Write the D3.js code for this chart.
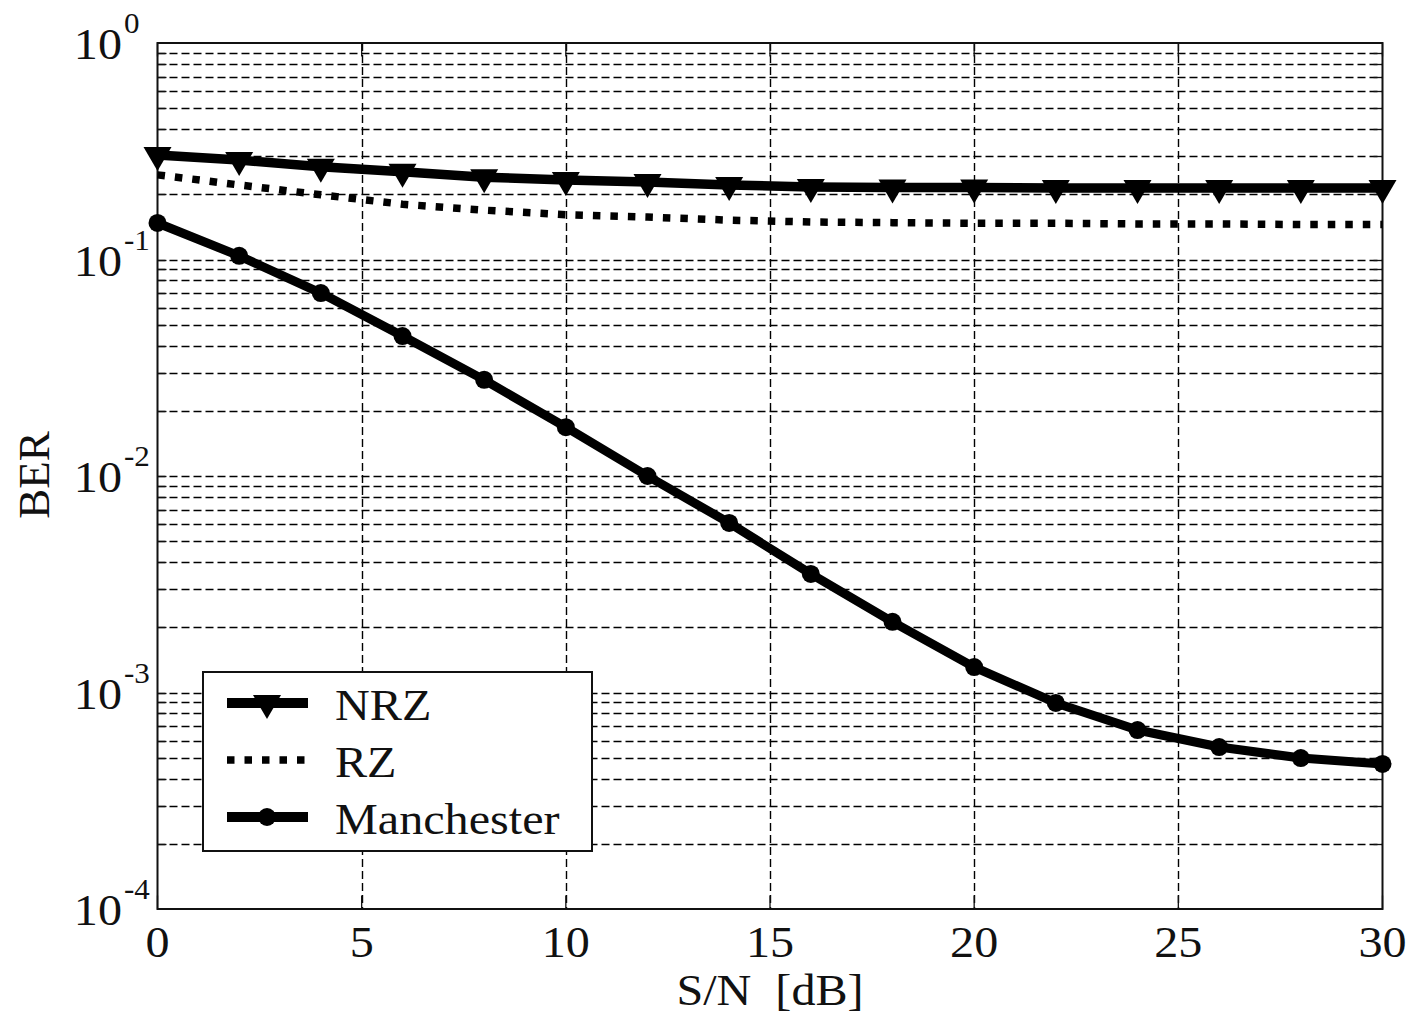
<!DOCTYPE html>
<html>
<head>
<meta charset="utf-8">
<script src="https://cdn.jsdelivr.net/npm/d3@7"></script>
<style>
  html, body { margin: 0; padding: 0; background: #fff; }
  svg { display: block; }
  text { font-family: "Liberation Serif", "Times New Roman", serif; fill: #111; }
</style>
</head>
<body>
<svg id="chart"></svg>
<script>
const WIDTH = 1410;
const HEIGHT = 1016;

const snr = [0, 2, 4, 6, 8, 10, 12, 14, 16, 18, 20, 22, 24, 26, 28, 30];
const nrz = [0.304, 0.288, 0.268, 0.254, 0.240, 0.233, 0.228, 0.221, 0.216, 0.215, 0.215, 0.214, 0.214, 0.214, 0.214, 0.214];
const rz = [0.246, 0.221, 0.199, 0.180, 0.169, 0.161, 0.157, 0.152, 0.149, 0.148, 0.147, 0.147, 0.146, 0.146, 0.145, 0.145];
const manchester = [0.1475, 0.104, 0.070, 0.0443, 0.0278, 0.0168, 0.0100, 0.00607, 0.00353, 0.00212, 0.00131, 0.000895, 0.000671, 0.00056, 0.000498, 0.000468];

const xTicks = [0, 5, 10, 15, 20, 25, 30];
const yDecades = [0, -1, -2, -3, -4];
const legendNames = ['NRZ', 'RZ', 'Manchester'];

const margin = {left: 157.5, right: 1382.5, top: 43, bottom: 909};
const FONT = 45;
const STRETCH = 1.07;

const svg = d3.select('#chart')
	.attr('width', WIDTH)
	.attr('height', HEIGHT);

svg.append('rect')
	.attr('width', WIDTH)
	.attr('height', HEIGHT)
	.attr('fill', 'white');

const x = d3.scaleLinear().domain([0, 30]).range([margin.left, margin.right]);
const y = d3.scaleLog().domain([1e-4, 1]).range([margin.bottom, margin.top]);

// minor + major y grid values (2..9 of each decade, plus inner decades)
const yGrid = [];
for (let e = -4; e < 0; e++) {
	for (let m = 1; m < 10; m++) {
		if (e === -4 && m === 1) continue;
		yGrid.push(m * Math.pow(10, e));
	}
}
const py = d => Math.round(y(d)) + 0.5;

const grid = svg.append('g')
	.attr('stroke', '#000')
	.attr('stroke-width', 1.4)
	.attr('stroke-dasharray', '8,4');

grid.selectAll('line.h')
	.data(yGrid)
	.enter()
	.append('line')
	.attr('class', 'h')
	.attr('x1', margin.left)
	.attr('x2', margin.right)
	.attr('y1', py)
	.attr('y2', py);

grid.selectAll('line.v')
	.data(xTicks.slice(1, -1))
	.enter()
	.append('line')
	.attr('class', 'v')
	.attr('x1', d => Math.round(x(d)) + 0.5)
	.attr('x2', d => Math.round(x(d)) + 0.5)
	.attr('y1', margin.top)
	.attr('y2', margin.bottom);

// inner tick marks
const TICK = 9;
const ticks = svg.append('g')
	.attr('stroke', '#111')
	.attr('stroke-width', 1.3);

ticks.selectAll('line.yl')
	.data(yGrid)
	.enter()
	.append('line')
	.attr('x1', margin.left)
	.attr('x2', margin.left + TICK)
	.attr('y1', py)
	.attr('y2', py);

ticks.selectAll('line.yr')
	.data(yGrid)
	.enter()
	.append('line')
	.attr('class', 'yr')
	.attr('x1', margin.right)
	.attr('x2', margin.right - TICK)
	.attr('y1', py)
	.attr('y2', py);

ticks.selectAll('line.xb')
	.data(xTicks)
	.enter()
	.append('line')
	.attr('class', 'xb')
	.attr('x1', d => x(d))
	.attr('x2', d => x(d))
	.attr('y1', margin.bottom)
	.attr('y2', margin.bottom - TICK * 1.5);

ticks.selectAll('line.xt')
	.data(xTicks)
	.enter()
	.append('line')
	.attr('class', 'xt')
	.attr('x1', d => x(d))
	.attr('x2', d => x(d))
	.attr('y1', margin.top)
	.attr('y2', margin.top + TICK * 1.5);

// frame
svg.append('rect')
	.attr('x', margin.left)
	.attr('y', margin.top)
	.attr('width', margin.right - margin.left)
	.attr('height', margin.bottom - margin.top)
	.attr('fill', 'none')
	.attr('stroke', '#111')
	.attr('stroke-width', 2);

// text helper with slight horizontal stretch
const addText = (parent, tx, ty, str, size, anchor) => {
	parent.append('g')
		.attr('transform', `translate(${tx},${ty})`)
		.append('text')
		.attr('transform', `scale(${STRETCH},1)`)
		.attr('text-anchor', anchor)
		.attr('font-size', size)
		.style('white-space', 'pre')
		.text(str);
};

// x tick labels
const labels = svg.append('g');
xTicks.forEach(t => addText(labels, x(t), 957, String(t), FONT, 'middle'));

// y tick labels 10^n
yDecades.forEach(e => {
	const yy = y(Math.pow(10, e));
	addText(labels, 122, yy + 16, '10', FONT, 'end');
	addText(labels, 124, yy - 10, String(e), 29, 'start');
});

addText(labels, 770, 1005, 'S/N  [dB]', FONT, 'middle');

svg.append('text')
	.attr('transform', 'translate(49,475) rotate(-90)')
	.attr('text-anchor', 'middle')
	.attr('font-size', FONT)
	.text('BER');

// data lines
const line = d3.line()
	.x((d, i) => x(snr[i]))
	.y(d => y(d));

const triangle = 'M-14,-8L14,-8L0,16Z';

svg.append('path')
	.datum(rz)
	.attr('d', line)
	.attr('fill', 'none')
	.attr('stroke', '#000')
	.attr('stroke-width', 7.5)
	.attr('stroke-dasharray', '7.5,10');

svg.append('path')
	.datum(nrz)
	.attr('d', line)
	.attr('fill', 'none')
	.attr('stroke', '#000')
	.attr('stroke-width', 9.5)
	.attr('stroke-linejoin', 'round');

svg.append('g')
	.selectAll('path')
	.data(nrz)
	.enter()
	.append('path')
	.attr('transform', (d, i) => `translate(${x(snr[i])},${y(d)})`)
	.attr('d', triangle)
	.attr('fill', '#000');

svg.append('path')
	.datum(manchester)
	.attr('d', line)
	.attr('fill', 'none')
	.attr('stroke', '#000')
	.attr('stroke-width', 9)
	.attr('stroke-linejoin', 'round');

svg.append('g')
	.selectAll('circle')
	.data(manchester)
	.enter()
	.append('circle')
	.attr('cx', (d, i) => x(snr[i]))
	.attr('cy', d => y(d))
	.attr('r', 9)
	.attr('fill', '#000');

// legend
const legend = svg.append('g');
legend.append('rect')
	.attr('x', 203)
	.attr('y', 672)
	.attr('width', 389)
	.attr('height', 179)
	.attr('fill', 'white')
	.attr('stroke', '#111')
	.attr('stroke-width', 2);

const legendY = [703, 760, 817];
legendNames.forEach((name, i) => {
	const ly = legendY[i];
	const sample = legend.append('line')
		.attr('x1', 227)
		.attr('x2', 308)
		.attr('y1', ly)
		.attr('y2', ly)
		.attr('stroke', '#000');
	if (name === 'RZ') {
		sample.attr('stroke-width', 7.5).attr('stroke-dasharray', '7.5,10');
	} else {
		sample.attr('stroke-width', 10);
	}
	if (name === 'NRZ') {
		legend.append('path')
			.attr('transform', `translate(267,${ly})`)
			.attr('d', triangle)
			.attr('fill', '#000');
	}
	if (name === 'Manchester') {
		legend.append('circle')
			.attr('cx', 267)
			.attr('cy', ly)
			.attr('r', 9)
			.attr('fill', '#000');
	}
	addText(legend, 335, ly + 17, name, FONT, 'start');
});
</script>
</body>
</html>
